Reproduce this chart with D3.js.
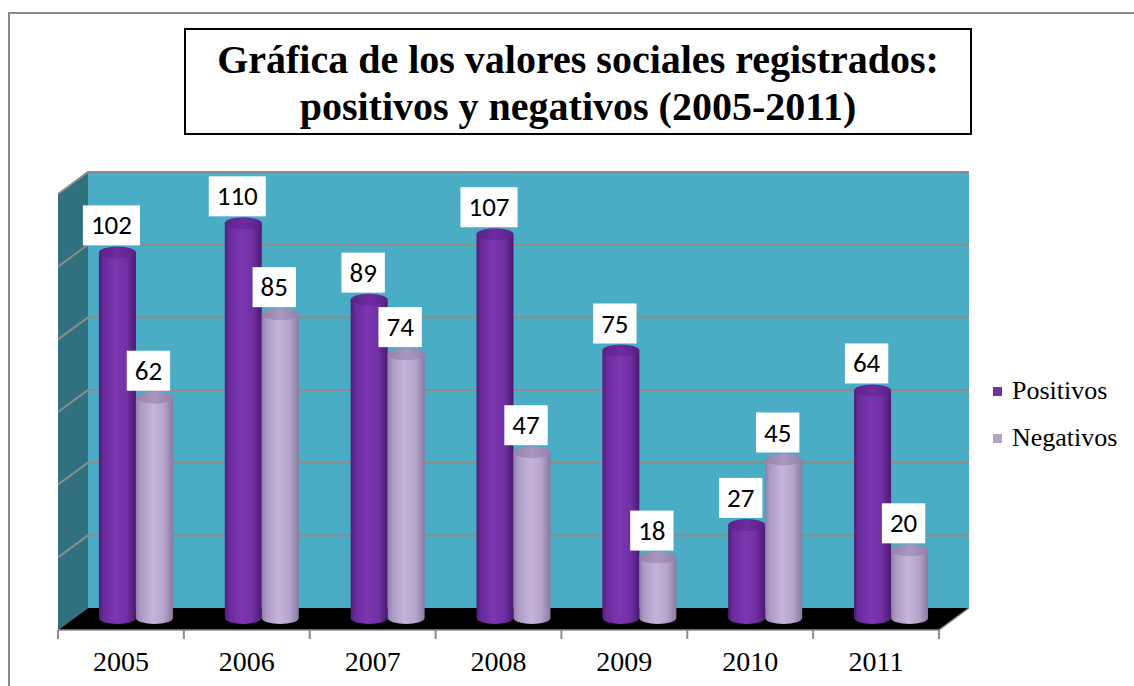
<!DOCTYPE html>
<html>
<head>
<meta charset="utf-8">
<script src="https://cdn.jsdelivr.net/npm/d3@7"></script>
<style>
  body { margin: 0; background: #fff; }
  svg { display: block; }
  .serif { font-family: 'Liberation Serif', 'Times New Roman', Times, Tinos, 'Nimbus Roman', 'Noto Serif', 'DejaVu Serif', serif; }
</style>
</head>
<body>
<div id="chart"></div>
<script>
// Chart values
const years = ['2005', '2006', '2007', '2008', '2009', '2010', '2011'];
const positivos = [102, 110, 89, 107, 75, 27, 64];
const negativos = [62, 85, 74, 47, 18, 45, 20];
const seriesNames = ['Positivos', 'Negativos'];
const gridTicks = [0, 20, 40, 60, 80, 100, 120];

const w = 1134, h = 686;
const depthX = 30, depthY = 22; // 3D offset of the back wall

const svg = d3.select('#chart')
  .append('svg')
  .attr('width', w)
  .attr('height', h);

const defs = svg.append('defs');
const makeGrad = (id, stops) => {
  const g = defs.append('linearGradient').attr('id', id)
    .attr('x1', '0%').attr('x2', '100%').attr('y1', '0%').attr('y2', '0%');
  stops.forEach(s => g.append('stop').attr('offset', s[0]).attr('stop-color', s[1]));
};
makeGrad('gradPos', [['0%', '#4f1c78'], ['12%', '#6a2a9c'], ['45%', '#7e36b2'], ['75%', '#7130a4'], ['100%', '#4a1a70']]);
makeGrad('gradNeg', [['0%', '#8f7ea8'], ['12%', '#ab99c3'], ['45%', '#c4b5da'], ['75%', '#b5a4cb'], ['100%', '#8a7aa0']]);
makeGrad('gradPosTop', [['0%', '#5a2188'], ['50%', '#6e2ca0'], ['100%', '#5a2188']]);
makeGrad('gradNegTop', [['0%', '#9482ad'], ['50%', '#a996c1'], ['100%', '#9482ad']]);

// Outer frame (only top and left visible)
svg.append('rect')
  .attr('x', 9).attr('y', 13)
  .attr('width', 1200).attr('height', 800)
  .attr('fill', 'none')
  .attr('stroke', '#8a8a8a')
  .attr('stroke-width', 2);

// Title
svg.append('rect')
  .attr('x', 185).attr('y', 29)
  .attr('width', 786).attr('height', 105)
  .attr('fill', '#fff')
  .attr('stroke', '#000')
  .attr('stroke-width', 2);
const title = svg.append('text')
  .attr('class', 'serif')
  .attr('text-anchor', 'middle')
  .attr('font-weight', 'bold')
  .attr('font-size', 40);
title.append('tspan').attr('x', 578).attr('y', 73).text('Gráfica de los valores sociales registrados:');
title.append('tspan').attr('x', 578).attr('y', 120).text('positivos y negativos (2005-2011)');

// Scales
const xScale = d3.scaleBand()
  .domain(years)
  .range([58, 939]);

const yWall = d3.scaleLinear()
  .domain([0, 120])
  .range([608, 172]);

const yBar = d3.scaleLinear()
  .domain([0, 120])
  .range([623, 187]);

const x0 = xScale.range()[0], x1 = xScale.range()[1];
const backLeft = x0 + depthX, backRight = x1 + depthX;

// Back wall
svg.append('rect')
  .attr('x', backLeft).attr('y', yWall(120))
  .attr('width', backRight - backLeft)
  .attr('height', yWall(0) - yWall(120))
  .attr('fill', '#4bacc6');

// Left side wall
svg.append('polygon')
  .attr('points', [[x0, yWall(120) + depthY], [backLeft, yWall(120)], [backLeft, yWall(0)], [x0, yWall(0) + depthY]].join(' '))
  .attr('fill', '#31707f');

// Gridlines on back and side wall
svg.selectAll('.grid')
  .data(gridTicks.slice(1))
  .enter()
  .append('path')
  .attr('class', 'grid')
  .attr('d', d => `M${x0},${yWall(d) + depthY}L${backLeft},${yWall(d)}L${backRight},${yWall(d)}`)
  .attr('fill', 'none')
  .attr('stroke', '#8c8c8c')
  .attr('stroke-width', 2);

// Floor
svg.append('polygon')
  .attr('points', [[x0, yWall(0) + depthY], [backLeft, yWall(0)], [backRight, yWall(0)], [x1, yWall(0) + depthY]].join(' '))
  .attr('fill', '#000');
svg.append('path')
  .attr('d', `M${x0},${yWall(0) + depthY}L${x1},${yWall(0) + depthY}L${backRight},${yWall(0)}`)
  .attr('fill', 'none')
  .attr('stroke', '#8c8c8c')
  .attr('stroke-width', 1.5);

// Axis ticks
const tickXs = years.map(d => xScale(d)).concat([x1]);
svg.selectAll('.tick')
  .data(tickXs)
  .enter()
  .append('line')
  .attr('x1', d => d).attr('x2', d => d)
  .attr('y1', yWall(0) + depthY).attr('y2', yWall(0) + depthY + 9)
  .attr('stroke', '#8c8c8c')
  .attr('stroke-width', 2);

// Year labels
svg.selectAll('.year')
  .data(years)
  .enter()
  .append('text')
  .attr('class', 'serif')
  .attr('x', d => xScale(d) + xScale.bandwidth() / 2)
  .attr('y', 671)
  .attr('text-anchor', 'middle')
  .attr('font-size', 28)
  .text(d => d);

// Cylinders
const cylW = 37, rx = cylW / 2, ry = 6, bottomY = 618;
const bars = [];
years.forEach((y, i) => {
  const mid = xScale(y) + xScale.bandwidth() / 2 + depthX / 2;
  bars.push({ year: y, value: positivos[i], cx: mid - rx, s: 0 });
  bars.push({ year: y, value: negativos[i], cx: mid + rx, s: 1 });
});

const cyl = svg.selectAll('.cyl')
  .data(bars)
  .enter()
  .append('g')
  .attr('class', 'cyl');

cyl.append('path')
  .attr('d', d => {
    const top = yBar(d.value);
    return `M${d.cx - rx},${top}L${d.cx - rx},${bottomY}` +
      `A${rx},${ry} 0 0 0 ${d.cx + rx},${bottomY}L${d.cx + rx},${top}Z`;
  })
  .attr('fill', d => d.s === 0 ? 'url(#gradPos)' : 'url(#gradNeg)');

cyl.append('ellipse')
  .attr('cx', d => d.cx)
  .attr('cy', d => yBar(d.value))
  .attr('rx', rx)
  .attr('ry', ry)
  .attr('fill', d => d.s === 0 ? 'url(#gradPosTop)' : 'url(#gradNegTop)');

// Value labels
const labels = svg.selectAll('.lbl')
  .data(bars)
  .enter()
  .append('g')
  .attr('class', 'lbl');

labels.append('rect')
  .attr('fill', '#fff');

labels.append('text')
  .attr('text-anchor', 'middle')
  .attr('x', d => d.cx - 6)
  .attr('y', d => yBar(d.value) - ry - 12)
  .attr('font-family', 'Carlito, Lato, "Open Sans", sans-serif')
  .attr('font-size', 27)
  .attr('fill', '#000')
  .text(d => d.value);

labels.each(function(d) {
  const g = d3.select(this);
  const tw = g.select('text').node().getComputedTextLength();
  const bw = tw + 16;
  const bottom = yBar(d.value) - ry - 1;
  g.select('rect')
    .attr('x', d.cx - 6 - bw / 2)
    .attr('y', bottom - 40)
    .attr('width', bw)
    .attr('height', 40);
});

// Legend
const colors = ['#7030a0', '#b3a2c7'];
const legend = svg.selectAll('.legend')
  .data(seriesNames)
  .enter()
  .append('g')
  .attr('class', 'legend')
  .attr('transform', (d, i) => `translate(993,${387 + i * 47})`);

legend.append('rect')
  .attr('width', 9).attr('height', 9)
  .attr('fill', (d, i) => colors[i]);

legend.append('text')
  .attr('class', 'serif')
  .attr('x', 19).attr('y', 12)
  .attr('font-size', 26)
  .text(d => d);
</script>
</body>
</html>
